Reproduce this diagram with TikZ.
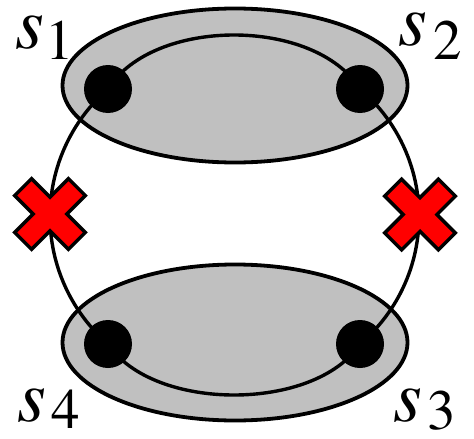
\documentclass[tikz,border=0pt]{standalone}
\usepackage{mathptmx}
\usetikzlibrary{shapes.geometric}
\definecolor{cellgray}{RGB}{192,192,192}
\definecolor{xred}{RGB}{255,0,0}
\newcommand{\sitelabel}[3]{\scalebox{7.4}{$s$}\kern#2\raisebox{-#3}{\scalebox{5.7}{$#1$}}}
\begin{document}
\begin{tikzpicture}[x=1pt,y=-1pt,
  cluster/.style={ellipse, draw=black, line width=3.8pt, fill=cellgray, minimum width=345pt, minimum height=154pt, inner sep=0pt},
  site/.style={circle, fill=black, minimum size=48pt, inner sep=0pt},
  edgeline/.style={line width=3.4pt},
  lab/.style={anchor=base west, inner sep=0pt},
  cutmark/.pic={\draw[fill=xred, line width=3.5pt, line join=miter, rotate=45]
     (12,38) -- (12,12) -- (38,12) -- (38,-12) -- (12,-12) -- (12,-38) -- (-12,-38)
     -- (-12,-12) -- (-38,-12) -- (-38,12) -- (-12,12) -- (-12,38) -- cycle;}]
\useasboundingbox (0,0) rectangle (474,439);
% groups
\node[cluster] (g12) at (235,85.5) {};
\node[cluster, minimum height=156pt] (g43) at (235,342.5) {};
% sites
\node[site] (n1) at (108,89) {};
\node[site] (n2) at (360,89) {};
\node[site] (n3) at (360,344) {};
\node[site] (n4) at (108,344) {};
% links
\draw[edgeline] (n1.center) .. controls +(45,-72) and +(-45,-72) .. (n2.center);
\draw[edgeline] (n4.center) .. controls +(45,68) and +(-45,68) .. (n3.center);
\draw[edgeline] (n1.center) arc[start angle=228.93, end angle=131.07, radius=169.1];
\draw[edgeline] (n2.center) arc[start angle=-49.66, end angle=49.66, radius=167.3];
% cut marks
\pic (xl) at (50,214) {cutmark};
\pic (xr) at (420,214.5) {cutmark};
% labels
\node[lab] (l1) at (14.8,48) {\sitelabel{1}{2pt}{12pt}};
\node[lab] (l2) at (397.8,45) {\sitelabel{2}{6.7pt}{15pt}};
\node[lab] (l4) at (16.8,421) {\sitelabel{4}{5.7pt}{7pt}};
\node[lab] (l3) at (392.8,421) {\sitelabel{3}{6pt}{8pt}};
\end{tikzpicture}
\end{document}
